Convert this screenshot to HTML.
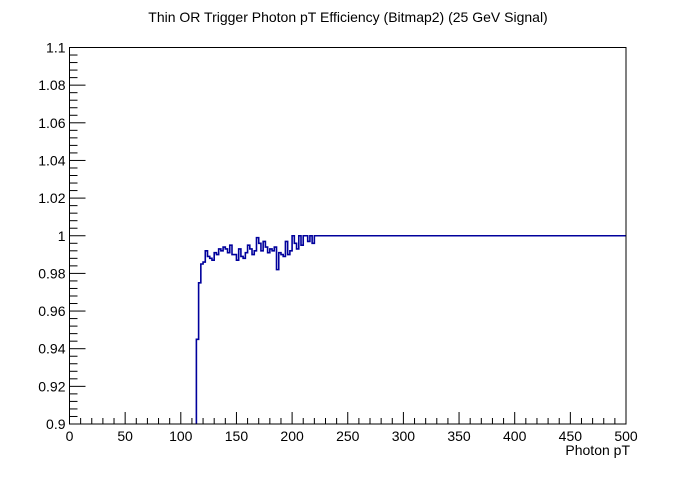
<!DOCTYPE html>
<html><head><meta charset="utf-8"><style>
body{margin:0;background:#fff;}
svg text{font-family:"Liberation Sans",Arial,sans-serif;}
</style></head><body>
<svg id="chart" width="696" height="472" xmlns="http://www.w3.org/2000/svg">
<rect width="696" height="472" fill="#fff"/>
<text x="348" y="22" font-size="14" text-anchor="middle">Thin OR Trigger Photon pT Efficiency (Bitmap2) (25 GeV Signal)</text>
<g id="axes"></g>
<path id="series" fill="none" stroke="#00009c" stroke-width="1.6"/>
<rect x="69.5" y="47.5" width="556.5" height="376.5" fill="none" stroke="#000" stroke-width="1"/>
<text x="630" y="455" font-size="14" text-anchor="end">Photon pT</text>
</svg>
<script>
const binStarts=[114,116,118,120,122,124,126,128,130,132,134,136,138,140,142,144,146,148,150,152,154,156,158,160,162,164,166,168,170,172,174,176,178,180,182,184,186,188,190,192,194,196,198,200,202,204,206,208,210,212,214,216,218,220];
const effValues=[0.945,0.975,0.985,0.986,0.992,0.989,0.988,0.987,0.991,0.990,0.993,0.992,0.994,0.993,0.991,0.995,0.990,0.990,0.987,0.993,0.989,0.988,0.991,0.995,0.993,0.990,0.992,0.999,0.996,0.992,0.997,0.994,0.991,0.993,0.992,0.994,0.982,0.991,0.990,0.989,0.997,0.990,0.992,1.0,0.996,0.993,1.0,0.995,1.0,1.0,0.997,1.0,0.996,1.0];
const binWidth=2, xEnd=500, tailValue=1.0;
const xTicks=[0,50,100,150,200,250,300,350,400,450,500];
const yTicks=[0.9,0.92,0.94,0.96,0.98,1,1.02,1.04,1.06,1.08,1.1];
const X0=69.5,X1=626,Y0=424,Y1=47.5;
const sx=v=>X0+(v-0)/(500-0)*(X1-X0);
const sy=v=>Y0-(v-0.9)/(0.2)*(Y0-Y1);
const clampY=v=>Math.min(Y0,Math.max(Y1,sy(v)));
const ns="http://www.w3.org/2000/svg";
const ax=document.getElementById('axes');
function line(x1,y1,x2,y2,name){const l=document.createElementNS(ns,'line');
l.setAttribute('x1',x1);l.setAttribute('y1',y1);l.setAttribute('x2',x2);l.setAttribute('y2',y2);
l.setAttribute('stroke','#000');l.setAttribute('stroke-width','1');


ax.appendChild(l);}
function txt(x,y,s,anchor,name){const t=document.createElementNS(ns,'text');
t.setAttribute('x',x);t.setAttribute('y',y);t.setAttribute('font-size','14');t.setAttribute('text-anchor',anchor);t.textContent=s;


ax.appendChild(t);}
for(let v=0;v<=500;v+=10){const x=sx(v);const major=v%50===0;line(x,Y0,x,Y0-(major?12:6),'x-tick');}
xTicks.forEach(v=>txt(sx(v),Y0+17,String(v),'middle','x-tick-label'));
for(let i=0;i<=50;i++){const v=0.9+i*0.004;const y=sy(v);line(X0,y,X0+(i%5===0?16:8),y,'y-tick');}
yTicks.forEach(v=>txt(X0-4,sy(v)+5,String(+v.toFixed(2)),'end','y-tick-label'));
let d='M'+sx(binStarts[0])+','+Y0;
binStarts.forEach((b,i)=>{const y=clampY(effValues[i]);d+=' L'+sx(b)+','+y+' L'+sx(b+binWidth)+','+y;});
const last=binStarts[binStarts.length-1]+binWidth;
d+=' L'+sx(last)+','+clampY(tailValue)+' L'+sx(xEnd)+','+clampY(tailValue);
document.getElementById('series').setAttribute('d',d);
</script>
</body></html>
